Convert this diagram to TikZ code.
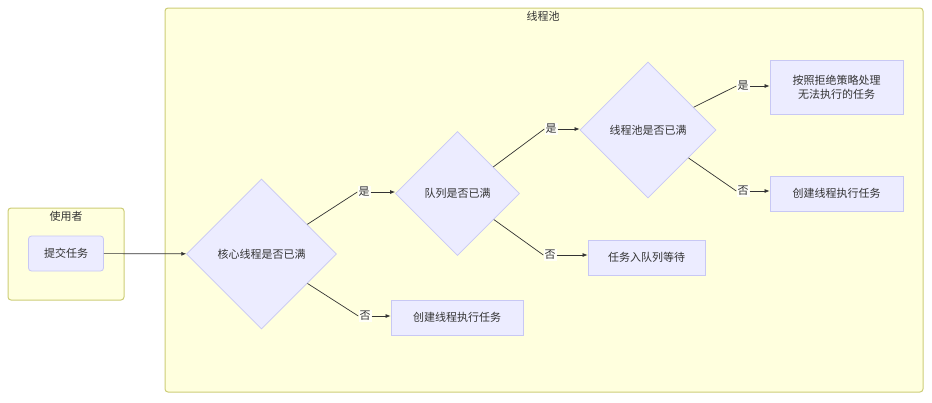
\documentclass[tikz,border=0pt]{standalone}
\usepackage{fontspec}
\setmainfont{Noto Sans CJK SC}
\usetikzlibrary{shapes.geometric,arrows.meta}
\definecolor{clfill}{HTML}{FFFFDE}
\definecolor{cldraw}{HTML}{CDCD77}
\definecolor{ndfill}{HTML}{ECECFF}
\definecolor{nddraw}{HTML}{C8C8F4}
\definecolor{lncol}{HTML}{333333}
\definecolor{txcol}{HTML}{333333}
\tikzset{
  cluster/.style={draw=cldraw,fill=clfill,line width=1pt,rounded corners=3pt},
  cltitle/.style={font=\fontsize{11}{13}\selectfont,text=txcol,inner sep=0pt},
  procbox/.style={draw=nddraw,fill=ndfill,line width=0.8pt,font=\fontsize{11}{14}\selectfont,text=txcol,align=center,inner sep=0pt},
  decision/.style={diamond,aspect=1,draw=nddraw,fill=ndfill,line width=0.8pt,font=\fontsize{11}{14}\selectfont,text=txcol,inner sep=0pt},
  elabel/.style={fill=white,fill opacity=0.8,text opacity=1,font=\fontsize{11}{13}\selectfont,text=txcol,inner sep=1pt},
  conn/.style={draw=lncol,line width=0.7pt},
  arr/.style={conn,-{Latex[length=5pt,width=4pt]}}
}
\begin{document}
\begin{tikzpicture}[x=1pt,y=-1pt]
\useasboundingbox (0,0) rectangle (932,402);
% clusters
\draw[cluster] (8,208) rectangle (124,300);
\node[cltitle] (t1) at (66,216) {使用者};
\draw[cluster] (165,8) rectangle (923,392);
\node[cltitle] (t2) at (543,16) {线程池};
% nodes
\node[procbox,minimum width=75pt,minimum height=35pt,rounded corners=3pt] (sub) at (66,253.5) {提交任务};
\node[decision,minimum width=150pt,minimum height=150pt] (d1) at (261.5,254) {核心线程是否已满};
\node[decision,minimum width=124pt,minimum height=124pt] (d2) at (457.5,193.5) {队列是否已满};
\node[decision,minimum width=136pt,minimum height=136pt] (d3) at (648,130) {线程池是否已满};
\node[procbox,minimum width=132pt,minimum height=35pt] (b1) at (457,317.5) {创建线程执行任务};
\node[procbox,minimum width=117pt,minimum height=35pt] (b2) at (646.5,257.5) {任务入队列等待};
\node[procbox,minimum width=133pt,minimum height=54pt] (b3) at (836.5,87) {按照拒绝策略处理\\无法执行的任务};
\node[procbox,minimum width=133pt,minimum height=35pt] (b4) at (836.5,193.5) {创建线程执行任务};
% labels
\node[elabel] (l1) at (364,192) {是};
\node[elabel] (l2) at (365,316) {否};
\node[elabel] (l3) at (551,129) {是};
\node[elabel] (l4) at (550,255) {否};
\node[elabel] (l5) at (743,86) {是};
\node[elabel] (l6) at (743,191) {否};
% edges
\draw[arr] (sub) -- (d1);
\draw[conn] (d1) -- (l1.west);
\draw[arr] (l1.east) -- (l1.east -| d2.west);
\draw[conn] (d1) -- (l2.west);
\draw[arr] (l2.east) -- (l2.east -| b1.west);
\draw[conn] (d2) -- (l3.west);
\draw[arr] (l3.east) -- (l3.east -| d3.west);
\draw[conn] (d2) -- (l4.west);
\draw[arr] (l4.east) -- (l4.east -| b2.west);
\draw[conn] (d3) -- (l5.west);
\draw[arr] (l5.east) -- (l5.east -| b3.west);
\draw[conn] (d3) -- (l6.west);
\draw[arr] (l6.east) -- (l6.east -| b4.west);
\end{tikzpicture}
\end{document}
